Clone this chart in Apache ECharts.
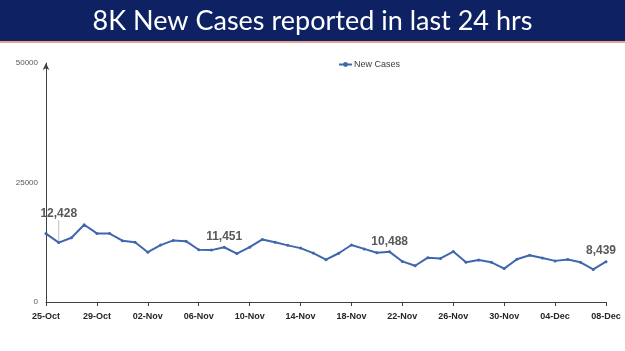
<!DOCTYPE html>
<html>
<head>
<meta charset="utf-8">
<script src="https://cdn.jsdelivr.net/npm/echarts@6/dist/echarts.min.js"></script>
<style>
  html, body { margin: 0; padding: 0; background: #fff; }
  #chart { width: 625px; height: 351px; }
</style>
</head>
<body>
<div id="chart"></div>
<script>
// daily new cases, 25-Oct to 08-Dec
const dates = [
    '25-Oct', '26-Oct', '27-Oct', '28-Oct', '29-Oct', '30-Oct', '31-Oct',
    '01-Nov', '02-Nov', '03-Nov', '04-Nov', '05-Nov', '06-Nov', '07-Nov', '08-Nov',
    '09-Nov', '10-Nov', '11-Nov', '12-Nov', '13-Nov', '14-Nov', '15-Nov', '16-Nov',
    '17-Nov', '18-Nov', '19-Nov', '20-Nov', '21-Nov', '22-Nov', '23-Nov', '24-Nov',
    '25-Nov', '26-Nov', '27-Nov', '28-Nov', '29-Nov', '30-Nov',
    '01-Dec', '02-Dec', '03-Dec', '04-Dec', '05-Dec', '06-Dec', '07-Dec', '08-Dec'
];
const newCases = [
    14306, 12428, 13451, 16156, 14348, 14313, 12830,
    12514, 10423, 11903, 12885, 12729, 10929, 10853, 11451,
    10126, 11466, 13091, 12516, 11850, 11271, 10229, 8865,
    10197, 11919, 11106, 10302, 10488, 8488, 7579, 9283,
    9119, 10549, 8318, 8774, 8309, 6990,
    8954, 9765, 9216, 8603, 8895, 8306, 6822, 8439
];
const labelledDays = ['26-Oct', '08-Nov', '21-Nov', '08-Dec'];
const yTicks = [0, 25000, 50000];

const fmt = (v) => v.toLocaleString('en-US');

const seriesData = newCases.map((v, i) => {
    if (labelledDays.indexOf(dates[i]) >= 0) {
        // first callout is lifted off its point with a leader line
        return { value: v, label: { show: true }, labelLine: { show: i === 1 } };
    }
    return v;
});

const chart = echarts.init(document.getElementById('chart'));
chart.setOption({
    animation: false,
    title: {
        text: '8K New Cases reported in last 24 hrs',
        left: 'center',
        top: 3,
        textStyle: {
            color: '#fff',
            fontFamily: 'Lato',
            fontWeight: 'normal',
            fontSize: 27
        }
    },
    graphic: [
        {
            type: 'rect',
            z: -1,
            shape: { x: 0, y: 0, width: 625, height: 41 },
            style: { fill: '#0d2163' }
        },
        {
            type: 'rect',
            z: -1,
            shape: { x: 0, y: 41, width: 625, height: 2 },
            style: { fill: '#e4a68e' }
        }
    ],
    legend: {
        top: 55,
        left: 333,
        itemWidth: 13,
        itemHeight: 6,
        itemGap: 2,
        textStyle: { fontSize: 9, color: '#404040', fontFamily: 'Liberation Sans', padding: [0, 0, 0, -3] },
        data: ['New Cases']
    },
    grid: { left: 46, right: 19, top: 63, bottom: 49 },
    xAxis: {
        type: 'category',
        data: dates,
        boundaryGap: false,
        axisLine: { lineStyle: { color: '#404040', width: 1 } },
        axisTick: { interval: 3, length: 4, lineStyle: { color: '#404040' } },
        axisLabel: {
            interval: 3,
            color: '#262626',
            fontWeight: 'bold',
            fontSize: 9,
            fontFamily: 'Liberation Sans',
            margin: 10
        }
    },
    yAxis: {
        type: 'value',
        min: yTicks[0],
        max: yTicks[yTicks.length - 1],
        interval: 25000,
        splitLine: { show: false },
        axisTick: { show: false },
        axisLine: {
            show: true,
            symbol: ['none', 'arrow'],
            symbolSize: [5, 7],
            lineStyle: { color: '#404040', width: 1 }
        },
        axisLabel: {
            color: '#595959',
            fontSize: 8,
            fontFamily: 'Liberation Sans',
            margin: 8,
            formatter: (v) => String(v)
        }
    },
    series: [
        {
            name: 'New Cases',
            type: 'line',
            data: seriesData,
            symbol: 'circle',
            symbolSize: 3,
            itemStyle: { color: '#3f67ad' },
            lineStyle: { color: '#3f67ad', width: 2 },
            label: {
                show: false,
                position: 'top',
                distance: 3,
                color: '#595959',
                fontWeight: 'bold',
                fontSize: 12,
                fontFamily: 'Liberation Sans',
                formatter: (p) => fmt(p.value)
            },
            labelLine: {
                show: false,
                lineStyle: { color: '#bfbfbf', width: 1 }
            },
            labelLayout: (p) => {
                if (p.dataIndex === 1) {
                    return { dy: -18 };
                }
                if (p.dataIndex === newCases.length - 1) {
                    return { dx: -5 };
                }
                return {};
            }
        }
    ]
});
</script>
</body>
</html>
